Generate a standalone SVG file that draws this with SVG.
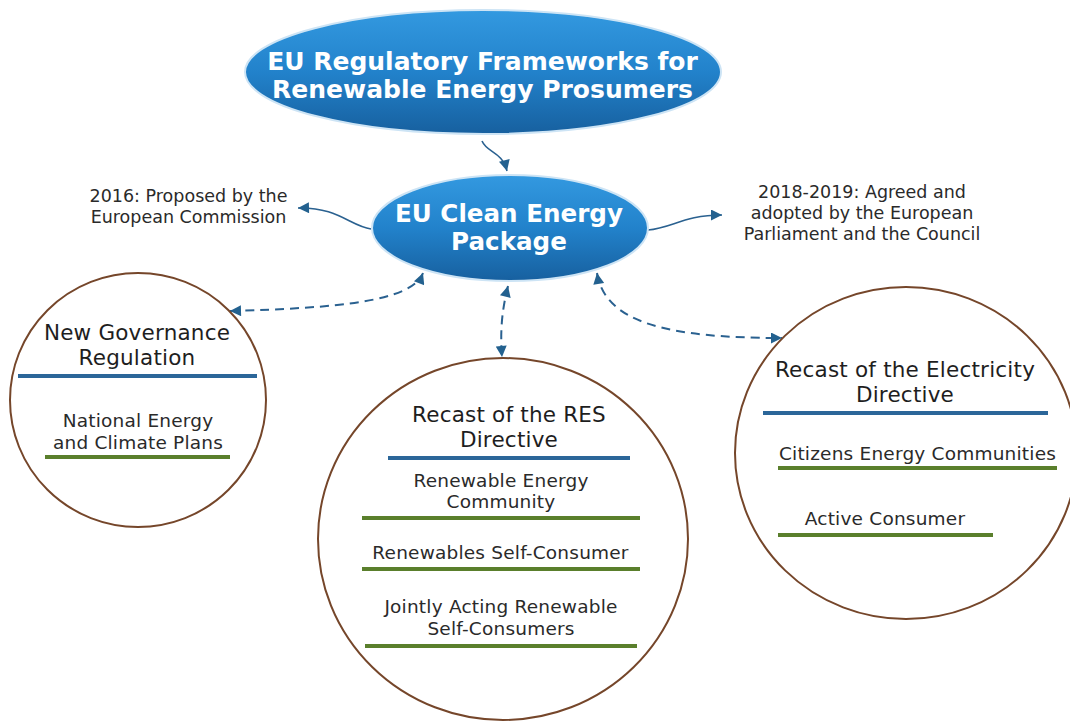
<svg xmlns="http://www.w3.org/2000/svg" width="1070" height="722" viewBox="0 0 1070 722">
  <style>
    .title { font-family: "DejaVu Sans", Verdana, sans-serif; font-weight: bold; fill: #ffffff; text-anchor: middle; }
    .head { font-family: "DejaVu Sans", Verdana, sans-serif; font-size: 21.5px; letter-spacing: 0.2px; fill: #1e1e1e; text-anchor: middle; }
    .item { font-family: "DejaVu Sans", Verdana, sans-serif; font-size: 18.5px; letter-spacing: 0.2px; fill: #2a2a2a; text-anchor: middle; }
    .note { font-family: "DejaVu Sans", Verdana, sans-serif; font-size: 17.5px; fill: #2a2a2a; text-anchor: middle; }
    .circ { fill: #ffffff; stroke: #75462a; stroke-width: 2; }
    .blue { stroke: #2b6699; stroke-width: 4; }
    .green { stroke: #5a7f2c; stroke-width: 4; }
    .conn { fill: none; stroke: #2a6190; stroke-width: 1.6; }
    .dash { fill: none; stroke: #2a6190; stroke-width: 2; stroke-dasharray: 9 6; }
    .oval { fill: url(#blueGrad); stroke: #cde4f5; stroke-width: 2; }
  </style>
  <defs>
    <linearGradient id="blueGrad" x1="0" y1="0" x2="0" y2="1">
      <stop offset="0" stop-color="#3399e0"/>
      <stop offset="0.5" stop-color="#2282cb"/>
      <stop offset="1" stop-color="#17609f"/>
    </linearGradient>
    <marker id="ah" viewBox="0 0 10 10" refX="10" refY="5" markerWidth="14" markerHeight="11" markerUnits="userSpaceOnUse" orient="auto-start-reverse">
      <path d="M0,0 L10,5 L0,10 z" fill="#23618f"/>
    </marker>
  </defs>
  <rect width="1070" height="722" fill="#ffffff"/>

  <g id="connectors">
    <path class="conn" d="M482,141 C487,153 502,151 507,171" marker-end="url(#ah)"/>
    <path class="conn" d="M371,229 C350,226 338,207 298,208" marker-end="url(#ah)"/>
    <path class="conn" d="M648,230 C672,228 684,215 722,215" marker-end="url(#ah)"/>
    <path class="dash" d="M230,311 C335,308 412,302 423,273" marker-start="url(#ah)" marker-end="url(#ah)"/>
    <path class="dash" d="M508,286 C502,310 500,330 502,357" marker-start="url(#ah)" marker-end="url(#ah)"/>
    <path class="dash" d="M597,273 C605,322 665,338 782,338" marker-start="url(#ah)" marker-end="url(#ah)"/>
  </g>

  <g id="node-title">
    <ellipse class="oval" cx="483" cy="72" rx="238" ry="62"/>
    <text class="title" x="482.5" y="70" font-size="25">EU Regulatory Frameworks for</text>
    <text class="title" x="482.5" y="98" font-size="25">Renewable Energy Prosumers</text>
  </g>

  <g id="node-package">
    <ellipse class="oval" cx="510" cy="228" rx="138" ry="53"/>
    <text class="title" x="509" y="222" font-size="24.6">EU Clean Energy</text>
    <text class="title" x="509" y="250" font-size="24.6">Package</text>
  </g>

  <g id="note-2016">
    <text class="note" x="188.5" y="202">2016: Proposed by the</text>
    <text class="note" x="188.5" y="223">European Commission</text>
  </g>

  <g id="note-2018">
    <text class="note" x="862" y="198">2018-2019: Agreed and</text>
    <text class="note" x="862" y="219">adopted by the European</text>
    <text class="note" x="862" y="240">Parliament and the Council</text>
  </g>

  <g id="node-governance">
    <ellipse class="circ" cx="138" cy="400" rx="128" ry="127"/>
    <text class="head" x="137" y="340">New Governance</text>
    <text class="head" x="137" y="365">Regulation</text>
    <line class="blue" x1="18" y1="376" x2="257" y2="376"/>
    <text class="item" x="138" y="427">National Energy</text>
    <text class="item" x="138" y="449">and Climate Plans</text>
    <line class="green" x1="45" y1="457" x2="230" y2="457"/>
  </g>

  <g id="node-res">
    <ellipse class="circ" cx="503" cy="539" rx="185" ry="181"/>
    <text class="head" x="509" y="422">Recast of the RES</text>
    <text class="head" x="509" y="447">Directive</text>
    <line class="blue" x1="388" y1="458" x2="630" y2="458"/>
    <text class="item" x="501" y="487">Renewable Energy</text>
    <text class="item" x="501" y="508">Community</text>
    <line class="green" x1="362" y1="518" x2="640" y2="518"/>
    <text class="item" x="500.5" y="559">Renewables Self-Consumer</text>
    <line class="green" x1="362" y1="569" x2="640" y2="569"/>
    <text class="item" x="501" y="613">Jointly Acting Renewable</text>
    <text class="item" x="501" y="635">Self-Consumers</text>
    <line class="green" x1="365" y1="646" x2="637" y2="646"/>
  </g>

  <g id="node-electricity">
    <ellipse class="circ" cx="906" cy="453" rx="171" ry="166"/>
    <text class="head" x="905" y="377">Recast of the Electricity</text>
    <text class="head" x="905" y="402">Directive</text>
    <line class="blue" x1="763" y1="413" x2="1048" y2="413"/>
    <text class="item" x="917.5" y="460">Citizens Energy Communities</text>
    <line class="green" x1="778" y1="468" x2="1057" y2="468"/>
    <text class="item" x="885" y="525">Active Consumer</text>
    <line class="green" x1="778" y1="535" x2="993" y2="535"/>
  </g>
</svg>
